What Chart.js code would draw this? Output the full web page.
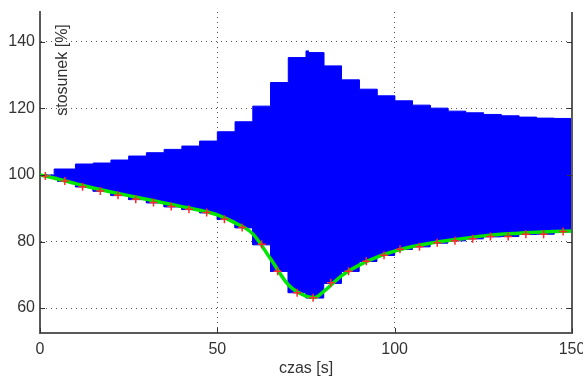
<!DOCTYPE html>
<html>
<head>
<meta charset="utf-8">
<title>stosunek</title>
<script src="https://cdn.jsdelivr.net/npm/chart.js@4/dist/chart.umd.min.js"></script>
<style>
    html, body { margin: 0; padding: 0; background: #fff; }
    canvas { display: block; }
</style>
</head>
<body>
<canvas id="chart" width="583" height="378"></canvas>
<script>
// upper envelope of the oscillation: value holds from upperT[i] to upperT[i + 1]
const upperT = [0, 4, 10, 15, 20, 25, 30, 35, 40, 45, 50, 55, 60, 65, 70, 75, 75.7, 80, 85, 90, 95, 100, 105, 110, 115, 120, 125, 130, 135, 140, 145, 150];
const upperV = [100, 101.8, 103.3, 103.6, 104.5, 105.7, 106.7, 107.7, 108.7, 110.2, 113.0, 116.0, 120.7, 127.8, 135.3, 137.3, 136.8, 132.8, 128.6, 125.8, 123.8, 122.3, 121.0, 120.1, 119.2, 118.7, 118.2, 117.8, 117.4, 117.1, 117.0, 117.0];
// lower envelope steps
const lowerT = [0, 5, 10, 15, 20, 25, 30, 35, 40, 45, 50, 55, 60, 65, 70, 75, 80, 85, 90, 95, 100, 105, 110, 115, 120, 125, 130, 135, 140, 145, 150];
const lowerV = [99.6, 98.1, 96.4, 95.1, 93.8, 92.6, 91.6, 90.4, 89.6, 88.6, 86.6, 84.1, 79.0, 71.0, 64.6, 63.0, 67.4, 71.0, 74.0, 75.8, 77.6, 78.4, 79.5, 80.2, 80.8, 81.4, 81.5, 82.1, 82.2, 82.9, 82.9];
// smooth fitted curve (green)
const curveT = [0, 5, 10, 15, 20, 25, 30, 35, 40, 45, 50, 55, 60, 65, 70, 75, 77.5, 80, 85, 90, 95, 100, 105, 110, 115, 120, 125, 130, 135, 140, 145, 150];
const curveV = [100, 98.8, 97.4, 96.1, 94.9, 93.8, 92.7, 91.6, 90.5, 89.4, 88.0, 85.6, 82.3, 74.8, 67.0, 63.6, 63.2, 65.0, 69.7, 72.9, 75.3, 77.1, 78.5, 79.5, 80.3, 81.0, 81.7, 82.2, 82.5, 82.8, 83.0, 83.2];
// sampled points (red +)
const markerT = [1.5, 7, 12, 17, 22, 27, 32, 37, 42, 47, 52, 57, 62.5, 67, 72.5, 77, 82, 87, 92, 97, 101.5, 107, 112, 117, 122, 127, 132, 137, 142, 147.5];
const markerV = [99.7, 98.2, 96.5, 95.2, 93.9, 92.7, 91.7, 90.5, 89.7, 88.7, 86.7, 84.2, 79.2, 71.1, 64.6, 63.1, 67.6, 71.1, 74.1, 75.9, 77.7, 78.4, 79.6, 80.2, 80.8, 81.5, 81.5, 82.2, 82.2, 83.0];
const xTicks = [0, 50, 100, 150];
const yTicks = [60, 80, 100, 120, 140];
const xLabel = 'czas [s]';
const yLabel = 'stosunek [%]';

(function () {
    const font = { family: '"Liberation Sans", Arial, sans-serif', size: 16 };
    const textColor = '#333';
    const axisColor = '#5a5a5a';

    function points(xs, ys) {
        return xs.map(function (x, i) { return { x: x, y: ys[i] }; });
    }
    // each value is held flat until the next time stamp
    function steps(xs, ys) {
        const out = [];
        for (let i = 0; i < xs.length - 1; i++) {
            out.push({ x: xs[i], y: ys[i] }, { x: xs[i + 1], y: ys[i] });
        }
        return out;
    }
    function gridColor(bounds) {
        return function (ctx) {
            return ctx.tick && bounds.indexOf(ctx.tick.value) !== -1 ? 'rgba(0,0,0,0)' : '#555';
        };
    }

    // MATLAB-like inner ticks, right frame line and the ylabel sitting inside the axes
    const matlabAxes = {
        id: 'matlabAxes',
        afterDraw: function (chart) {
            const ctx = chart.ctx;
            const area = chart.chartArea;
            const x = chart.scales.x;
            const y = chart.scales.y;
            ctx.save();
            ctx.strokeStyle = axisColor;
            ctx.lineWidth = 2;
            ctx.beginPath();
            ctx.moveTo(area.right, area.top);
            ctx.lineTo(area.right, area.bottom);
            ctx.stroke();
            ctx.strokeStyle = '#333';
            ctx.lineWidth = 1;
            ctx.beginPath();
            y.ticks.forEach(function (t) {
                const py = Math.round(y.getPixelForValue(t.value)) + 0.5;
                ctx.moveTo(area.left, py); ctx.lineTo(area.left + 5, py);
                ctx.moveTo(area.right, py); ctx.lineTo(area.right - 5, py);
            });
            x.ticks.forEach(function (t) {
                const px = Math.round(x.getPixelForValue(t.value)) + 0.5;
                ctx.moveTo(px, area.bottom); ctx.lineTo(px, area.bottom - 5);
            });
            ctx.stroke();
            ctx.translate(area.left + 23, area.top + 58);
            ctx.rotate(-Math.PI / 2);
            ctx.fillStyle = textColor;
            ctx.font = font.size + 'px ' + font.family;
            ctx.textAlign = 'center';
            ctx.textBaseline = 'middle';
            ctx.fillText(yLabel, 0, 0);
            ctx.restore();
        }
    };

    new Chart(document.getElementById('chart'), {
        type: 'line',
        data: {
            datasets: [
                {
                    data: points(markerT, markerV),
                    showLine: false,
                    pointStyle: 'cross',
                    pointRadius: 4,
                    pointBorderWidth: 1.5,
                    pointBorderColor: '#ff2a2a',
                    order: 0
                },
                {
                    data: points(curveT, curveV),
                    borderColor: '#00e600',
                    borderWidth: 3.5,
                    cubicInterpolationMode: 'monotone',
                    pointRadius: 0,
                    order: 1
                },
                {
                    data: steps(upperT, upperV),
                    borderColor: '#0000ff',
                    borderWidth: 1,
                    pointRadius: 0,
                    fill: false,
                    order: 3
                },
                {
                    data: steps(lowerT, lowerV),
                    borderColor: '#0000ff',
                    borderWidth: 1,
                    pointRadius: 0,
                    backgroundColor: '#0000ff',
                    fill: '-1',
                    order: 2
                }
            ]
        },
        options: {
            responsive: false,
            animation: false,
            devicePixelRatio: 1,
            layout: { padding: { top: 12, right: 11, left: 0, bottom: 0 } },
            plugins: { legend: { display: false }, tooltip: { enabled: false } },
            scales: {
                x: {
                    type: 'linear',
                    min: 0,
                    max: 150,
                    afterBuildTicks: function (scale) { scale.ticks = xTicks.map(function (v) { return { value: v }; }); },
                    afterFit: function (scale) { scale.height = 45; scale.paddingLeft = 0; scale.paddingRight = 0; },
                    ticks: { color: textColor, font: font, padding: 7, maxRotation: 0 },
                    grid: { color: gridColor([0, 150]), lineWidth: 1, drawTicks: false },
                    border: { color: axisColor, width: 2, dash: [1, 4] },
                    title: { display: true, text: xLabel, color: textColor, font: font, padding: { top: 0, bottom: 0 } }
                },
                y: {
                    min: 52.5,
                    max: 149,
                    afterBuildTicks: function (scale) { scale.ticks = yTicks.map(function (v) { return { value: v }; }); },
                    afterFit: function (scale) { scale.width = 40; scale.paddingTop = 0; scale.paddingBottom = 0; },
                    ticks: { color: textColor, font: font, padding: 5 },
                    grid: { color: gridColor([]), lineWidth: 1, drawTicks: false },
                    border: { color: axisColor, width: 2, dash: [1, 4] }
                }
            }
        },
        plugins: [matlabAxes]
    });
}());
</script>
</body>
</html>
